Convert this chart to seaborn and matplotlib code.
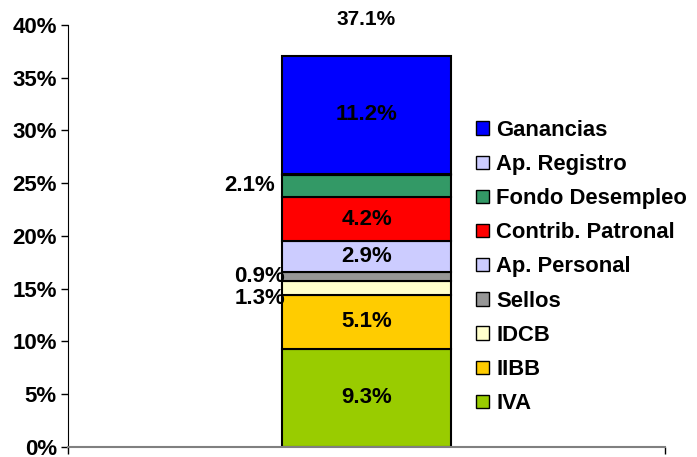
import matplotlib.pyplot as plt
import numpy as np
import pandas as pd
import seaborn as sns
from matplotlib.patches import Patch

# stacking order, bottom to top
impuestos = ["IVA", "IIBB", "IDCB", "Sellos", "Ap. Personal",
             "Contrib. Patronal", "Fondo Desempleo", "Ap. Registro", "Ganancias"]
valores = [9.3, 5.1, 1.3, 0.9, 2.9, 4.2, 2.1, 0.1, 11.2]
colores = ["#99CC00", "#FFCC00", "#FFFFCC", "#969696", "#CCCCFF",
           "#FF0000", "#339966", "#CCCCFF", "#0000FF"]
# where the value label goes: inside the bar, to the left, or none
pos_etiqueta = ["in", "in", "left", "left", "in", "in", "left", None, "in"]
total = 37.1

sns.set_style("white")
plt.rcParams['font.family'] = ['Liberation Sans', 'DejaVu Sans']
plt.rcParams['font.weight'] = 'bold'
plt.rcParams['text.color'] = 'black'
plt.rcParams['ytick.color'] = 'black'

FS = 16

fig = plt.figure(figsize=(6.97, 4.57), dpi=100)
ax = fig.add_axes([0.0976, 0.0219, 0.8565, 0.9234])

df = pd.DataFrame({"impuesto": impuestos, "valor": valores})
df["base"] = df["valor"].cumsum() - df["valor"]

# label offsets (points) for the outside labels, as placed in the original
nudge = {"IDCB": (5, -7.5), "Sellos": (5, 0), "Fondo Desempleo": (-2, 0)}

for i, row in df.iterrows():
    sns.barplot(x=[""], y=[row["valor"]], bottom=row["base"], color=colores[i],
                width=0.283, edgecolor="black", linewidth=1.5, saturation=1,
                ax=ax)
    mid = row["base"] + row["valor"] / 2
    txt = f"{row['valor']:.1f}%"
    if pos_etiqueta[i] == "in":
        ax.text(0, mid, txt, ha="center", va="center", fontsize=FS,
                fontweight="bold")
    elif pos_etiqueta[i] == "left":
        ax.annotate(txt, (-0.148, mid), xytext=nudge.get(row["impuesto"], (0, 0)),
                    textcoords="offset points", ha="right", va="center",
                    fontsize=FS, fontweight="bold")

ax.text(0, total + 3.4, f"{total:.1f}%", ha="center", va="center",
        fontsize=15, fontweight="bold")

ax.set_xlim(-0.5, 0.5)
ax.set_ylim(0, 40)
ax.set_yticks(np.arange(0, 41, 5))
ax.set_yticklabels([f"{t}%" for t in range(0, 41, 5)])
ax.set_xticks([-0.5, 0.5])
ax.set_xticklabels(["", ""])
ax.tick_params(axis="both", direction="out", length=5, width=1, color="black",
               labelsize=FS, pad=3, left=True, bottom=True)
for lab in ax.get_yticklabels():
    lab.set_fontweight("bold")
sns.despine(ax=ax)
ax.spines["left"].set_color("black")
ax.spines["bottom"].set_color("#808080")
ax.spines["bottom"].set_linewidth(1.5)
ax.set_xlabel("")
ax.set_ylabel("")

handles = [Patch(facecolor=c, edgecolor="black", linewidth=1)
           for c in colores[::-1]]
fig.legend(handles, impuestos[::-1], loc="upper left",
           bbox_to_anchor=(0.671, 0.757), frameon=False, fontsize=15.8,
           handlelength=0.55, handleheight=0.55, handletextpad=0.35,
           labelspacing=0.6, borderaxespad=0)

fig.savefig("out.png", dpi=100)
